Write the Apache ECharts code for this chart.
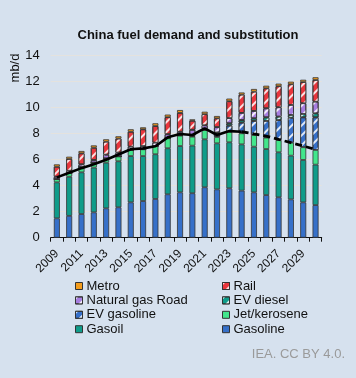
<!DOCTYPE html>
<html>
<head>
<meta charset="utf-8">
<script src="https://cdn.jsdelivr.net/npm/echarts@6/dist/echarts.min.js"></script>
<style>
html,body{margin:0;padding:0;background:#d6e1ee;}
#chart{width:356px;height:378px;}
</style>
</head>
<body>
<div id="chart"></div>
<script>
const years = ['2009','2010','2011','2012','2013','2014','2015','2016','2017','2018','2019','2020','2021','2022','2023','2024','2025','2026','2027','2028','2029','2030'];
const gasoline = [1.49,1.68,1.82,1.95,2.26,2.34,2.72,2.82,2.98,3.34,3.49,3.42,3.88,3.72,3.80,3.62,3.49,3.28,3.11,2.95,2.72,2.51];
const gasoil   = [2.77,3.01,3.21,3.44,3.51,3.54,3.56,3.46,3.44,3.54,3.56,3.66,3.69,3.54,3.54,3.56,3.51,3.54,3.46,3.36,3.26,3.11];
const jet      = [0.25,0.29,0.41,0.38,0.33,0.37,0.47,0.52,0.63,0.77,0.80,0.69,0.71,0.49,0.81,0.85,0.90,0.88,0.95,1.00,0.98,1.13];
const evGasoline = [0,0,0,0,0,0,0,0,0,0.01,0.03,0.05,0.05,0.25,0.47,0.82,1.08,1.28,1.53,1.92,2.30,2.51];
const evDiesel   = [0,0,0,0,0,0,0,0,0,0,0.02,0.04,0.05,0.10,0.18,0.20,0.20,0.28,0.26,0.21,0.26,0.31];
const natGas   = [0.18,0.17,0.20,0.21,0.29,0.30,0.25,0.25,0.26,0.30,0.25,0.44,0.27,0.40,0.40,0.55,0.57,0.69,0.72,0.77,0.82,0.89];
const rail     = [0.77,0.90,0.85,0.94,0.99,1.07,1.15,1.29,1.28,1.31,1.45,0.70,0.85,0.68,1.30,1.40,1.48,1.54,1.62,1.59,1.63,1.67];
const metro    = [0.18,0.18,0.18,0.18,0.19,0.18,0.19,0.15,0.21,0.20,0.22,0.10,0.19,0.18,0.20,0.17,0.21,0.20,0.20,0.20,0.18,0.21];
const demandLine = [4.64,5.00,5.35,5.65,6.00,6.40,6.80,6.87,7.03,7.72,7.98,7.90,8.41,7.90,8.20,8.15,7.98,7.82,7.56,7.31,7.05,6.80];
const lastHistoricIndex = 15; // 2024
const yTicks = {min:0, max:14, interval:2};

const solidLine = demandLine.map((v,i)=> i<=lastHistoricIndex ? v : null);
const dashedLine = demandLine.map((v,i)=> i>=lastHistoricIndex ? v : null);

const font = "'Liberation Sans', Arial, sans-serif";
const hatch = {symbol:'rect', symbolSize:1, dashArrayX:[1,0], dashArrayY:[2,5], rotation:-Math.PI/4, color:'rgba(255,255,255,0.85)'};

function bar(name, data, color, hatched){
  const s = {
    name, type:'bar', stack:'total', data, barWidth:6,
    itemStyle:{color, borderColor:'#333', borderWidth:0.8},
    emphasis:{disabled:true}
  };
  if (hatched) s.itemStyle.decal = hatch;
  return s;
}

const legendCommon = {
  orient:'vertical', top:274, itemWidth:7, itemHeight:7, itemGap:0.4,
  icon:'rect', selectedMode:false,
  itemStyle:{borderColor:'#333', borderWidth:1},
  textStyle:{fontFamily:font, fontSize:13, color:'#111', lineHeight:14, padding:[0,0,0,-1]}
};

const chart = echarts.init(document.getElementById('chart'), null, {renderer:'canvas'});
chart.setOption({
  backgroundColor:'#d6e1ee',
  animation:false,
  textStyle:{fontFamily:font},
  title:[{
    text:'China fuel demand and substitution',
    left:183, top:24, textAlign:'center',
    textStyle:{fontFamily:font, fontSize:13, fontWeight:'bold', color:'#111'}
  },{
    text:'IEA. CC BY 4.0.',
    right:6, top:343,
    textStyle:{fontFamily:font, fontSize:13, fontWeight:'normal', color:'#9a9a9a'}
  }],
  grid:{left:50.7, right:34.3, top:55.7, bottom:140.3},
  legend:[
    Object.assign({}, legendCommon, {left:70, data:['Metro','Natural gas Road','EV gasoline','Gasoil']}),
    Object.assign({}, legendCommon, {left:217, data:['Rail','EV diesel','Jet/kerosene','Gasoline']})
  ],
  xAxis:{
    type:'category', data:years,
    axisLine:{lineStyle:{color:'#111', width:1}},
    axisTick:{show:true, interval:0, length:4, lineStyle:{color:'#111'}},
    axisLabel:{interval:1, rotate:45, fontSize:12, color:'#111', margin:14, fontFamily:font},
    splitLine:{show:false}
  },
  yAxis:{
    type:'value', min:yTicks.min, max:yTicks.max, interval:yTicks.interval,
    axisLine:{show:false}, axisTick:{show:false},
    axisLabel:{fontSize:13, color:'#111', margin:11, fontFamily:font},
    splitLine:{lineStyle:{color:'#e4e2de', width:1}}
  },
  graphic:[{
    type:'text', x:15, y:68, rotation:Math.PI/2,
    style:{text:'mb/d', font:"13px 'Liberation Sans', Arial, sans-serif", fill:'#111', align:'center', verticalAlign:'middle'}
  }],
  series:[
    bar('Gasoline', gasoline, '#3670c9', false),
    bar('Gasoil', gasoil, '#0f9c8a', false),
    bar('Jet/kerosene', jet, '#42e68c', false),
    bar('EV gasoline', evGasoline, '#3670c9', true),
    bar('EV diesel', evDiesel, '#0f9c8a', true),
    bar('Natural gas Road', natGas, '#a77ee0', true),
    bar('Rail', rail, '#e8363d', true),
    bar('Metro', metro, '#f39c1c', false),
    {name:'Demand', type:'line', data:solidLine, symbol:'none', z:10,
     lineStyle:{color:'#000', width:2.6}, emphasis:{disabled:true}},
    {name:'Demand projected', type:'line', data:dashedLine, symbol:'none', z:10,
     lineStyle:{color:'#000', width:2.8, type:[7,4]}, emphasis:{disabled:true}}
  ]
});
</script>
</body>
</html>
